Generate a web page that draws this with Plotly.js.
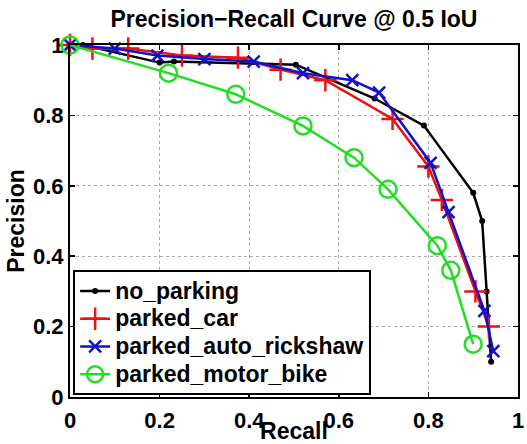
<!DOCTYPE html>
<html><head><meta charset="utf-8">
<script src="https://cdn.plot.ly/plotly-3.0.1.min.js"></script>
<style>html,body{margin:0;padding:0;background:#fff}#chart{width:527px;height:444px}</style>
</head><body><div id="chart"></div>
<script>
const seriesNames = ['no_parking', 'parked_car', 'parked_auto_rickshaw', 'parked_motor_bike'];

const recallNoParking = [0, 0.029, 0.20, 0.232, 0.504, 0.68, 0.79, 0.90, 0.92, 0.93, 0.94];
const precisionNoParking = [1.0, 1.0, 0.95, 0.953, 0.944, 0.848, 0.771, 0.58, 0.50, 0.30, 0.10];

const recallCar = [0, 0.05, 0.13, 0.25, 0.375, 0.47, 0.57, 0.72, 0.80, 0.83, 0.905, 0.935];
const precisionCar = [1.0, 0.99, 0.99, 0.97, 0.964, 0.93, 0.90, 0.79, 0.655, 0.56, 0.30, 0.20];

const recallRickshaw = [0, 0.10, 0.195, 0.30, 0.41, 0.52, 0.63, 0.69, 0.805, 0.845, 0.925, 0.945];
const precisionRickshaw = [1.0, 0.99, 0.97, 0.96, 0.953, 0.92, 0.90, 0.865, 0.665, 0.525, 0.245, 0.13];

const recallBike = [0, 0.22, 0.37, 0.52, 0.634, 0.71, 0.82, 0.85, 0.90];
const precisionBike = [1.0, 0.92, 0.86, 0.77, 0.68, 0.59, 0.43, 0.36, 0.15];

const tickVals = [0, 0.2, 0.4, 0.6, 0.8, 1];
const tickText = ['0', '0.2', '0.4', '0.6', '0.8', '1'];

const FONT = 'Liberation Sans, Arial, Helvetica, sans-serif';
const legendName = n => '<span style="font-size:23px">' + n + '</span>';

const traces = [
  {x: recallNoParking, y: precisionNoParking, name: legendName(seriesNames[0]), mode: 'lines+markers',
   line: {color: '#000000', width: 2.5}, marker: {symbol: 'circle', size: 6, color: '#000000'}, cliponaxis: false},
  {x: recallCar, y: precisionCar, name: legendName(seriesNames[1]), mode: 'lines+markers',
   line: {color: '#ee1111', width: 2.5}, marker: {symbol: 'cross-thin', size: 16, line: {color: '#ee1111', width: 2.5}}, cliponaxis: false},
  {x: recallRickshaw, y: precisionRickshaw, name: legendName(seriesNames[2]), mode: 'lines+markers',
   line: {color: '#1111cc', width: 2.5}, marker: {symbol: 'x-thin', size: 12, line: {color: '#1111cc', width: 2.5}}, cliponaxis: false},
  {x: recallBike, y: precisionBike, name: legendName(seriesNames[3]), mode: 'lines+markers',
   line: {color: '#22dd22', width: 2.5}, marker: {symbol: 'circle-open', size: 17, line: {color: '#22dd22', width: 2.5}}, cliponaxis: false}
];

const axisCommon = {
  range: [0, 1], tickvals: tickVals, ticktext: tickText,
  showgrid: true, gridcolor: '#aaaaaa', gridwidth: 1, griddash: 'dot',
  zeroline: false, showline: true, linecolor: '#000', linewidth: 2, mirror: 'ticks',
  ticks: 'inside', ticklen: 5, tickcolor: '#000', tickwidth: 1.5,
  tickfont: {family: FONT, size: 22, color: '#000', weight: 'bold'},
  fixedrange: true
};

const layout = {
  width: 527, height: 444,
  margin: {l: 70, r: 9, t: 45, b: 47},
  paper_bgcolor: '#fff', plot_bgcolor: '#fff',
  title: {text: 'Precision\u2212Recall Curve @ 0.5 IoU', font: {family: FONT, size: 23, color: '#000', weight: 'bold'},
          x: 0.5, xref: 'paper', xanchor: 'center', y: 1 - 19 / 444, yanchor: 'middle', yref: 'container'},
  xaxis: Object.assign({}, axisCommon, {
    ticklabelstandoff: 3,
    title: {text: 'Recall', font: {family: FONT, size: 23, color: '#000', weight: 'bold'}, standoff: 0}
  }),
  yaxis: Object.assign({}, axisCommon, {
    ticklabelstandoff: 0,
    title: {text: 'Precision', font: {family: FONT, size: 23, color: '#000', weight: 'bold'}, standoff: 2}
  }),
  legend: {x: 0.007, y: 0.005, xanchor: 'left', yanchor: 'bottom',
           bgcolor: '#fff', bordercolor: '#000', borderwidth: 2,
           font: {family: FONT, size: 19, color: '#000', weight: 'bold'},
           itemwidth: 30, tracegroupgap: 0},
  showlegend: true
};

Plotly.newPlot('chart', traces, layout, {staticPlot: true, displayModeBar: false});
</script>
</body></html>
